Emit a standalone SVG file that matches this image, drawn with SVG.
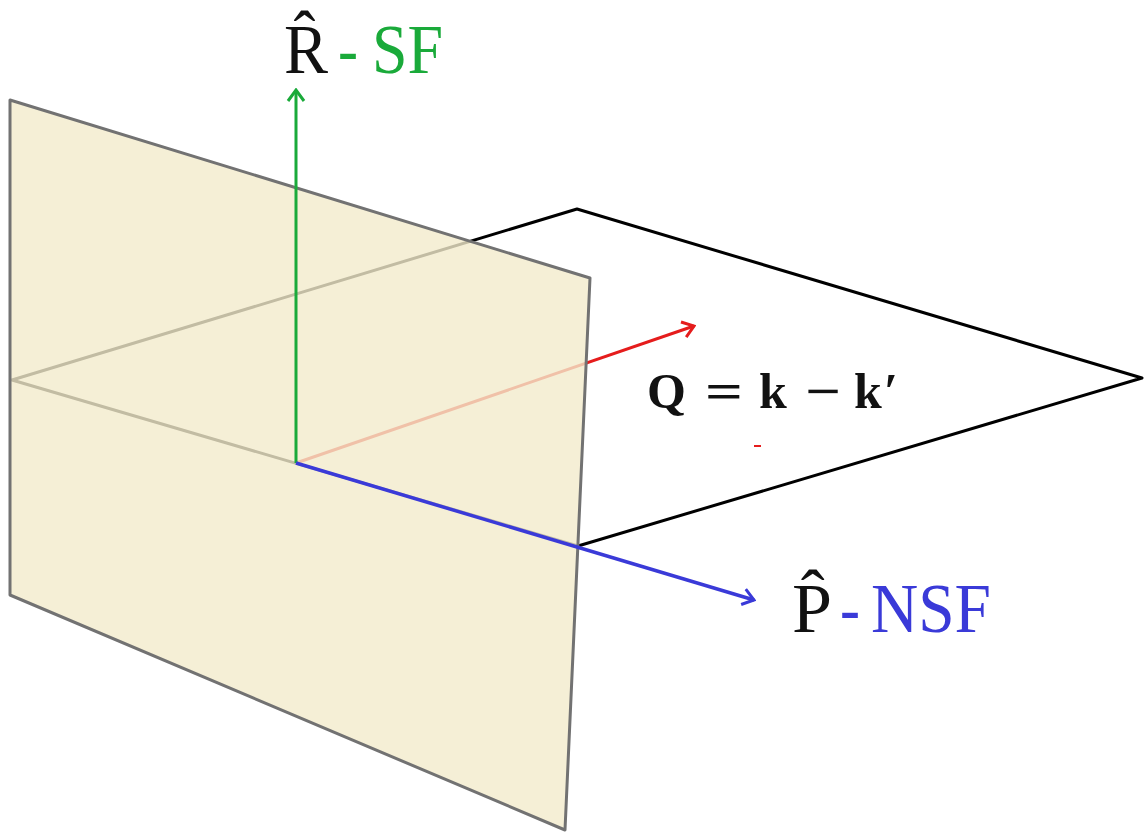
<svg xmlns="http://www.w3.org/2000/svg" width="1145" height="833" viewBox="0 0 1145 833">
<style>
.lbl{font-family:"Liberation Serif","DejaVu Serif",serif;font-size:70px}
.eq{font-family:"Liberation Serif","DejaVu Serif",serif;font-size:50px;font-weight:bold;fill:#111}
.edge{fill:none;stroke:#000;stroke-width:3}
.vec{fill:none;stroke-width:3}
</style>
<defs>
<marker id="mg" viewBox="-12 -10 14 20" markerWidth="14" markerHeight="20" refX="0" refY="0" orient="auto" markerUnits="userSpaceOnUse"><path d="M-11,-8 L0,0 L-11,8" fill="none" stroke="#1aaa3a" stroke-width="3"/></marker>
<marker id="mb" viewBox="-12 -10 14 20" markerWidth="14" markerHeight="20" refX="0" refY="0" orient="auto" markerUnits="userSpaceOnUse"><path d="M-11,-8 L0,0 L-11,8" fill="none" stroke="#3a3ad8" stroke-width="3"/></marker>
<marker id="mr" viewBox="-12 -10 14 20" markerWidth="14" markerHeight="20" refX="0" refY="0" orient="auto" markerUnits="userSpaceOnUse"><path d="M-11,-8 L0,0 L-11,8" fill="none" stroke="#e51c1c" stroke-width="3"/></marker>
</defs>
<g id="horizontal-plane">
<path class="edge" d="M12,380 L577,209 L1142,378 L578,546 Z" stroke-linejoin="round"/>
</g>
<g id="connectors-behind">
<line class="vec" x1="296" y1="463" x2="694" y2="326" stroke="#e51c1c" marker-end="url(#mr)"/>
</g>
<g id="vertical-plane">
<polygon points="10,100 590,278 565,830 10,595" fill="#f3ebcc" fill-opacity="0.8" stroke="#727272" stroke-width="3" stroke-linejoin="round"/>
</g>
<g id="connectors">
<line class="vec" x1="296" y1="463" x2="296" y2="90" stroke="#1aaa3a" marker-end="url(#mg)"/>
<line x1="296" y1="463" x2="754" y2="600" stroke="#3a3ad8" stroke-width="3.5" marker-end="url(#mb)"/>
</g>
<g id="label-R">
<text class="lbl" x="284" y="73" fill="#111" font-size="63" textLength="44" lengthAdjust="spacingAndGlyphs">R̂</text>
<text class="lbl" x="338" y="73" fill="#1aaa3a" textLength="20" lengthAdjust="spacingAndGlyphs">-</text>
<text class="lbl" x="372" y="73" fill="#1aaa3a" textLength="71" lengthAdjust="spacingAndGlyphs">SF</text>
</g>
<g id="label-Q">
<text class="eq" x="647" y="408">Q</text>
<text class="eq" x="705" y="408" textLength="38" lengthAdjust="spacingAndGlyphs">=</text>
<text class="eq" x="759" y="408">k</text>
<text class="eq" x="805" y="408" textLength="36" lengthAdjust="spacingAndGlyphs">−</text>
<text class="eq" x="854" y="408">k</text>
<text class="eq" x="884" y="408" font-weight="normal" font-family="DejaVu Sans, sans-serif" font-size="40">′</text>
<rect x="754" y="445" width="7" height="2" fill="#e51c1c"/>
</g>
<g id="label-P">
<text class="lbl" x="792" y="632" fill="#111" textLength="40" lengthAdjust="spacingAndGlyphs">P̂</text>
<text class="lbl" x="840" y="632" fill="#3a3ad8" textLength="20" lengthAdjust="spacingAndGlyphs">-</text>
<text class="lbl" x="871" y="632" fill="#3a3ad8" textLength="120" lengthAdjust="spacingAndGlyphs">NSF</text>
</g>
</svg>
